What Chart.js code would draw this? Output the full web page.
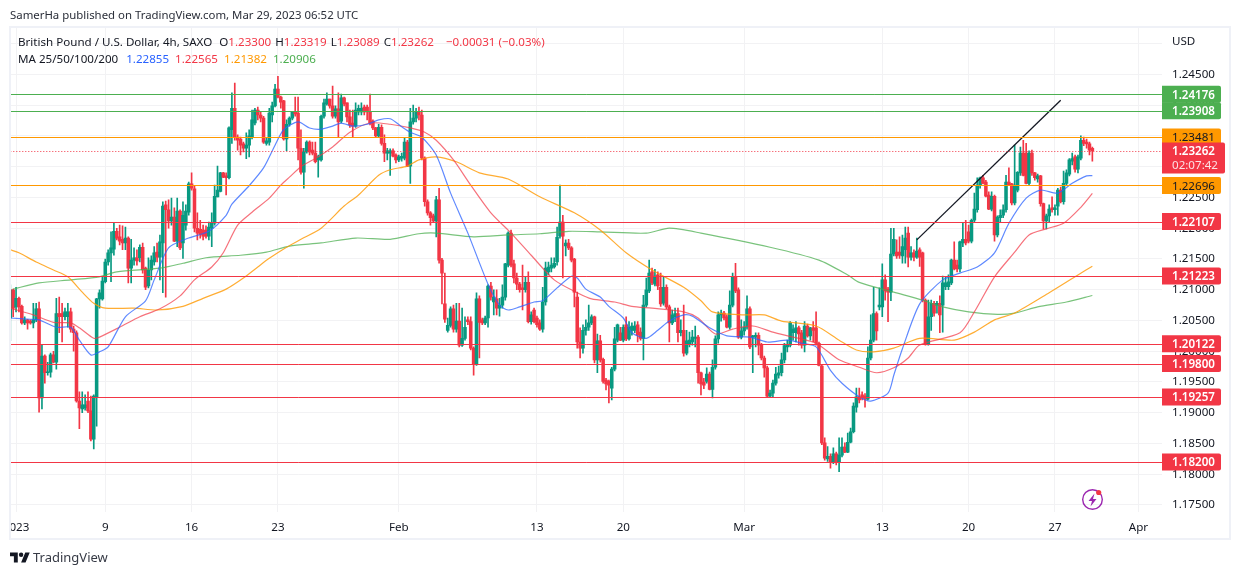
<!DOCTYPE html>
<html>
<head>
<meta charset="utf-8">
<title>GBPUSD 4h</title>
<script src="https://cdn.jsdelivr.net/npm/chart.js@4"></script>
<style>
    html, body { margin: 0; padding: 0; background: #fff; }
    body { width: 1240px; height: 575px; position: relative; overflow: hidden; font-family: "Noto Sans", sans-serif; color: #131722; }
    canvas { position: absolute; left: 0; top: 0; }
    .txt { position: absolute; white-space: pre; font-size: 11.6px; line-height: 16px; }
    .txt b { font-weight: normal; margin-left: 4px; }
    .up { color: #089981; } .down { color: #F23645; }
    svg { position: absolute; }
</style>
</head>
<body>
<canvas id="chart" width="1240" height="575"></canvas>
<div class="txt" style="left:10px;top:7px;color:#2a2e39;font-size:11.4px">SamerHa published on TradingView.com, Mar 29, 2023 06:52 UTC</div>
<div class="txt" style="left:18px;top:34px">British Pound / U.S. Dollar, 4h, SAXO<b style="margin-left:7px">O<span class="down">1.23300</span></b><b>H<span class="down">1.23319</span></b><b>L<span class="down">1.23089</span></b><b>C<span class="down">1.23262</span></b><b class="down" style="margin-left:12px">−0.00031 (−0.03%)</b></div>
<div class="txt" style="left:18px;top:51px">MA 25/50/100/200<b style="margin-left:8px;color:#2962FF">1.22855</b><b style="margin-left:6px;color:#F23645">1.22565</b><b style="margin-left:6px;color:#FF9800">1.21382</b><b style="margin-left:6px;color:#4CAF50">1.20906</b></div>
<div class="txt" style="left:1172px;top:33px">USD</div>
<svg style="left:10px;top:550px" width="20" height="16" viewBox="0 0 36 28"><path fill="#131722" d="M14 22H7V11H0V4h14v18zM28 22h-8l7.5-18h8L28 22z"/><circle fill="#131722" cx="20" cy="8" r="4"/></svg>
<div class="txt" style="left:33px;top:549px;font-size:13px;color:#363a45">TradingView</div>
<svg style="left:1080px;top:487px" width="26" height="26" viewBox="0 0 26 26"><circle cx="12.5" cy="12.5" r="9.8" fill="none" stroke="#9C27B0" stroke-width="1.4"/><path fill="#9C27B0" d="M14.5 6.5 8.5 14h3.5l-1.5 5.5 6-7.500h-3.500z"/><circle cx="18.700" cy="5.500" r="2.600" fill="#F23645"/></svg>
<script>
// ========================
// DATA
// ========================
const xTickIndex = [2, 33, 63, 93, 135, 183, 213, 255, 303, 333, 363, 392];
const xTickLabels = ['2023', '9', '16', '23', 'Feb', '13', '20', 'Mar', '13', '20', '27', 'Apr'];

const opens = [
    1.2054,1.2100,1.2072,1.2086,1.2073,1.2046,1.2051,1.2049,1.2046,1.2051,1.2069,1.1924,1.1992,1.1965,1.1966,1.1994,1.1982,1.2061,1.2061,1.2056,1.2056,1.2064,1.2036,1.2030,1.1919,1.1906,1.1908,1.1919,1.1903,1.1857,1.1925,1.2085,1.2085,
    1.2113,1.2145,1.2160,1.2166,1.2195,1.2186,1.2182,1.2176,1.2184,1.2135,1.2148,1.2152,1.2152,1.2169,1.2135,1.2106,1.2132,1.2145,1.2161,1.2153,1.2176,1.2238,1.2230,1.2212,1.2218,1.2179,1.2228,1.2176,1.2205,1.2226,
    1.2272,1.2264,1.2200,1.2198,1.2197,1.2197,1.2187,1.2200,1.2208,1.2251,1.2260,1.2290,1.2285,1.2282,1.2360,1.2395,1.2348,1.2345,1.2337,1.2330,1.2335,1.2348,1.2371,1.2392,1.2384,1.2379,1.2338,1.2340,1.2384,1.2399,
    1.2426,1.2413,1.2407,1.2345,1.2369,1.2379,1.2389,1.2387,1.2330,1.2291,1.2324,1.2340,1.2327,1.2322,1.2311,1.2311,1.2382,1.2402,1.2410,1.2399,1.2382,1.2394,1.2374,1.2412,1.2404,1.2381,1.2371,1.2366,1.2389,1.2389,
    1.2397,1.2397,1.2389,1.2374,1.2363,1.2350,1.2364,1.2338,1.2322,1.2322,1.2326,1.2319,1.2311,1.2314,1.2314,1.2340,1.2301,1.2373,1.2379,1.2389,1.2384,1.2314,1.2243,1.2225,1.2220,1.2212,1.2246,1.2148,1.2077,1.2034,
    1.2042,1.2069,1.2036,1.2049,1.2010,1.2021,1.2051,1.2048,1.2005,1.1979,1.2085,1.2051,1.2046,1.2054,1.2106,1.2080,1.2085,1.2070,1.2075,1.2088,1.2140,1.2192,1.2142,1.2119,1.2109,1.2103,1.2100,1.2112,1.2048,1.2067,
    1.2054,1.2046,1.2036,1.2080,1.2129,1.2135,1.2137,1.2145,1.2187,1.2210,1.2171,1.2176,1.2168,1.2150,1.2088,1.2015,1.2005,1.2034,1.2039,1.2046,1.2056,1.1986,1.2017,1.1987,1.1953,1.1951,1.1940,1.1971,1.2018,1.2030,
    1.2018,1.2043,1.2020,1.2034,1.2034,1.2043,1.2031,1.2021,1.2075,1.2098,1.2129,1.2109,1.2124,1.2104,1.2078,1.2104,1.2072,1.2046,1.2056,1.2061,1.2030,1.2034,1.1997,1.2012,1.2015,1.2021,1.2023,1.1965,1.1950,1.1951,
    1.1963,1.1938,1.1974,1.2020,1.2059,1.2062,1.2056,1.2039,1.2075,1.2121,1.2100,1.2023,1.2033,1.2039,1.2069,1.2023,1.2023,1.2026,1.2010,1.1989,1.1973,1.1927,1.1932,1.1948,1.1961,1.1965,1.1986,1.2007,1.2010,1.2030,
    1.2030,1.2038,1.2030,1.2010,1.2041,1.2025,1.2038,1.2038,1.2013,1.1976,1.1851,1.1825,1.1829,1.1820,1.1833,1.1820,1.1831,1.1844,1.1836,1.1852,1.1869,1.1909,1.1926,1.1929,1.1927,1.1922,1.1989,1.2018,1.2061,1.2072,
    1.2072,1.2116,1.2101,1.2096,1.2158,1.2161,1.2161,1.2155,1.2165,1.2192,1.2153,1.2160,1.2153,1.2165,1.2160,1.2083,1.2012,1.2056,1.2078,1.2075,1.2078,1.2075,1.2105,1.2105,1.2111,1.2148,1.2140,1.2134,1.2176,1.2182,
    1.2194,1.2179,1.2213,1.2230,1.2269,1.2282,1.2275,1.2254,1.2231,1.2252,1.2189,1.2217,1.2221,1.2230,1.2275,1.2272,1.2241,1.2262,1.2290,1.2322,1.2322,1.2273,1.2322,1.2290,1.2280,1.2285,1.2240,1.2212,1.2220,1.2233,
    1.2230,1.2236,1.2262,1.2243,1.2273,1.2288,1.2309,1.2316,1.2296,1.2314,1.2343,1.2340,1.2337,1.2330
];
const highs = [
    1.2108,1.2101,1.2104,1.2088,1.2075,1.2056,1.2052,1.2051,1.2078,1.2078,1.2080,1.2010,1.1994,1.1982,1.1997,1.2000,1.2086,1.2088,1.2078,1.2070,1.2078,1.2070,1.2041,1.2033,1.1934,1.1934,1.1929,1.1934,1.1927,1.1929,1.2086,1.2100,1.2121,
    1.2150,1.2165,1.2194,1.2208,1.2200,1.2205,1.2204,1.2202,1.2186,1.2182,1.2168,1.2165,1.2173,1.2176,1.2137,1.2152,1.2155,1.2170,1.2176,1.2189,1.2243,1.2244,1.2246,1.2249,1.2233,1.2249,1.2230,1.2243,1.2238,1.2275,
    1.2290,1.2269,1.2225,1.2213,1.2205,1.2204,1.2210,1.2225,1.2270,1.2301,1.2291,1.2291,1.2290,1.2365,1.2420,1.2436,1.2352,1.2348,1.2340,1.2355,1.2360,1.2392,1.2395,1.2397,1.2389,1.2382,1.2347,1.2395,1.2405,1.2434,
    1.2447,1.2415,1.2408,1.2376,1.2381,1.2390,1.2413,1.2413,1.2360,1.2330,1.2342,1.2342,1.2340,1.2340,1.2319,1.2384,1.2410,1.2420,1.2410,1.2431,1.2399,1.2420,1.2418,1.2413,1.2404,1.2392,1.2392,1.2404,1.2400,1.2404,
    1.2400,1.2400,1.2418,1.2376,1.2364,1.2369,1.2368,1.2352,1.2330,1.2329,1.2329,1.2321,1.2319,1.2322,1.2347,1.2343,1.2395,1.2400,1.2395,1.2397,1.2392,1.2316,1.2246,1.2227,1.2223,1.2252,1.2265,1.2151,1.2127,1.2054,
    1.2072,1.2075,1.2078,1.2078,1.2070,1.2056,1.2056,1.2056,1.2007,1.2095,1.2090,1.2054,1.2057,1.2108,1.2112,1.2100,1.2100,1.2086,1.2108,1.2143,1.2194,1.2197,1.2148,1.2127,1.2112,1.2140,1.2121,1.2129,1.2064,1.2070,
    1.2057,1.2051,1.2104,1.2145,1.2145,1.2152,1.2152,1.2202,1.2270,1.2221,1.2181,1.2182,1.2170,1.2151,1.2096,1.2038,1.2043,1.2051,1.2075,1.2059,1.2057,1.2028,1.2026,1.1989,1.1956,1.1953,1.1974,1.2039,1.2044,1.2039,
    1.2043,1.2056,1.2048,1.2046,1.2048,1.2048,1.2038,1.2091,1.2119,1.2148,1.2135,1.2133,1.2129,1.2127,1.2121,1.2108,1.2075,1.2067,1.2070,1.2070,1.2051,1.2075,1.2034,1.2031,1.2034,1.2041,1.2026,1.1966,1.1956,1.1973,
    1.1966,1.1986,1.2025,1.2064,1.2067,1.2065,1.2059,1.2098,1.2127,1.2143,1.2103,1.2051,1.2048,1.2090,1.2072,1.2026,1.2030,1.2030,1.2013,1.1992,1.1976,1.1937,1.1953,1.1974,1.1976,1.1997,1.2013,1.2018,1.2048,1.2043,
    1.2048,1.2041,1.2034,1.2048,1.2044,1.2039,1.2048,1.2064,1.2015,1.1977,1.1859,1.1845,1.1833,1.1843,1.1836,1.1859,1.1859,1.1851,1.1867,1.1875,1.1916,1.1940,1.1940,1.1934,1.1931,1.2007,1.2059,1.2104,1.2064,1.2103,
    1.2142,1.2124,1.2104,1.2200,1.2200,1.2181,1.2186,1.2189,1.2202,1.2202,1.2170,1.2165,1.2184,1.2168,1.2161,1.2085,1.2083,1.2083,1.2081,1.2081,1.2090,1.2122,1.2121,1.2124,1.2150,1.2178,1.2148,1.2179,1.2208,1.2213,
    1.2205,1.2215,1.2257,1.2282,1.2283,1.2286,1.2278,1.2259,1.2259,1.2254,1.2220,1.2230,1.2238,1.2286,1.2298,1.2273,1.2335,1.2292,1.2332,1.2343,1.2338,1.2326,1.2327,1.2291,1.2288,1.2286,1.2241,1.2223,1.2238,1.2251,
    1.2238,1.2265,1.2267,1.2293,1.2295,1.2313,1.2322,1.2319,1.2319,1.2350,1.2348,1.2345,1.2340,1.2332
];
const lows = [
    1.2017,1.2056,1.2064,1.2064,1.2044,1.2043,1.2036,1.2044,1.2038,1.2048,1.1901,1.1906,1.1948,1.1961,1.1958,1.1981,1.1971,1.2030,1.2015,1.2051,1.2039,1.2031,1.2000,1.1917,1.1874,1.1900,1.1904,1.1900,1.1854,1.1841,1.1878,1.2070,1.2083,
    1.2111,1.2140,1.2113,1.2156,1.2181,1.2173,1.2165,1.2165,1.2111,1.2111,1.2140,1.2140,1.2145,1.2127,1.2100,1.2103,1.2116,1.2140,1.2145,1.2116,1.2095,1.2088,1.2200,1.2205,1.2178,1.2170,1.2165,1.2151,1.2197,1.2221,
    1.2262,1.2194,1.2181,1.2184,1.2181,1.2184,1.2181,1.2170,1.2205,1.2251,1.2259,1.2282,1.2254,1.2280,1.2338,1.2343,1.2327,1.2319,1.2324,1.2313,1.2316,1.2345,1.2368,1.2376,1.2373,1.2338,1.2335,1.2335,1.2373,1.2397,
    1.2412,1.2395,1.2343,1.2326,1.2366,1.2376,1.2382,1.2311,1.2288,1.2265,1.2322,1.2319,1.2319,1.2306,1.2283,1.2309,1.2379,1.2400,1.2395,1.2379,1.2379,1.2347,1.2371,1.2399,1.2373,1.2364,1.2347,1.2364,1.2384,1.2384,
    1.2384,1.2376,1.2368,1.2360,1.2348,1.2347,1.2335,1.2308,1.2311,1.2286,1.2316,1.2306,1.2308,1.2309,1.2311,1.2300,1.2273,1.2369,1.2373,1.2376,1.2311,1.2236,1.2221,1.2205,1.2210,1.2186,1.2143,1.2077,1.2047,1.2031,
    1.2039,1.2031,1.2031,1.2007,1.2008,1.2018,1.2043,1.2002,1.1961,1.1977,1.1989,1.2043,1.2043,1.2039,1.2083,1.2059,1.2059,1.2057,1.2070,1.2083,1.2137,1.2137,1.2111,1.2100,1.2096,1.2067,1.2096,1.2046,1.2044,1.2046,
    1.2039,1.2034,1.2031,1.2075,1.2124,1.2129,1.2135,1.2140,1.2184,1.2119,1.2155,1.2165,1.2145,1.2072,1.2005,1.1989,1.1997,1.2026,1.2034,1.2043,1.1981,1.1965,1.1982,1.1948,1.1937,1.1916,1.1921,1.1968,1.2015,1.2017,
    1.2015,1.2017,1.2018,1.2026,1.2030,1.2015,1.2018,1.1986,1.2072,1.2095,1.2108,1.2106,1.2100,1.2073,1.2075,1.2069,1.2015,1.2043,1.2048,1.2015,1.2025,1.1992,1.1994,1.2007,1.2010,1.2007,1.1948,1.1929,1.1939,1.1948,
    1.1937,1.1924,1.1971,1.2013,1.2049,1.2051,1.2038,1.2036,1.2072,1.2095,1.2021,1.2020,1.2026,1.2036,1.2004,1.1965,1.2007,1.1994,1.1986,1.1958,1.1925,1.1925,1.1925,1.1945,1.1956,1.1960,1.1981,1.1999,1.2007,1.2018,
    1.2015,1.2010,1.2005,1.1999,1.2023,1.2018,1.2015,1.2010,1.1976,1.1848,1.1823,1.1821,1.1810,1.1817,1.1815,1.1804,1.1828,1.1835,1.1835,1.1851,1.1867,1.1901,1.1916,1.1921,1.1909,1.1921,1.1986,1.2015,1.2018,1.2067,
    1.2056,1.2083,1.2048,1.2082,1.2155,1.2151,1.2151,1.2143,1.2143,1.2137,1.2148,1.2147,1.2151,1.2138,1.2080,1.2010,1.2010,1.2034,1.2057,1.2062,1.2030,1.2031,1.2100,1.2100,1.2108,1.2132,1.2129,1.2129,1.2170,1.2173,
    1.2176,1.2176,1.2209,1.2226,1.2265,1.2272,1.2251,1.2230,1.2228,1.2179,1.2186,1.2210,1.2217,1.2226,1.2269,1.2238,1.2238,1.2259,1.2286,1.2285,1.2272,1.2270,1.2286,1.2278,1.2275,1.2236,1.2199,1.2199,1.2210,1.2226,
    1.2221,1.2221,1.2241,1.2239,1.2270,1.2285,1.2303,1.2291,1.2290,1.2311,1.2334,1.2330,1.2319,1.2309
];
const closes = [
    1.2100,1.2070,1.2086,1.2072,1.2046,1.2051,1.2046,1.2046,1.2051,1.2069,1.1924,1.1992,1.1965,1.1966,1.1994,1.1982,1.2061,1.2056,1.2056,1.2064,1.2064,1.2036,1.2030,1.1919,1.1908,1.1913,1.1913,1.1903,1.1857,1.1927,1.2085,1.2095,1.2114,
    1.2145,1.2160,1.2168,1.2195,1.2184,1.2179,1.2176,1.2184,1.2135,1.2148,1.2152,1.2147,1.2169,1.2132,1.2104,1.2132,1.2148,1.2160,1.2153,1.2178,1.2236,1.2230,1.2212,1.2218,1.2179,1.2228,1.2168,1.2221,1.2228,1.2272,
    1.2265,1.2200,1.2192,1.2190,1.2187,1.2187,1.2202,1.2208,1.2252,1.2262,1.2290,1.2283,1.2282,1.2363,1.2395,1.2347,1.2343,1.2335,1.2330,1.2335,1.2350,1.2376,1.2392,1.2384,1.2379,1.2340,1.2342,1.2387,1.2399,1.2426,
    1.2413,1.2405,1.2345,1.2369,1.2379,1.2389,1.2386,1.2330,1.2291,1.2324,1.2340,1.2324,1.2322,1.2308,1.2316,1.2382,1.2404,1.2410,1.2399,1.2382,1.2394,1.2373,1.2412,1.2402,1.2381,1.2368,1.2366,1.2392,1.2395,1.2395,
    1.2389,1.2389,1.2371,1.2363,1.2350,1.2364,1.2338,1.2322,1.2326,1.2326,1.2317,1.2311,1.2316,1.2317,1.2340,1.2301,1.2373,1.2379,1.2389,1.2384,1.2314,1.2243,1.2225,1.2217,1.2212,1.2246,1.2148,1.2127,1.2052,1.2042,
    1.2069,1.2036,1.2049,1.2010,1.2021,1.2039,1.2048,1.2005,1.1979,1.2085,1.2047,1.2046,1.2054,1.2106,1.2088,1.2088,1.2070,1.2075,1.2088,1.2142,1.2192,1.2140,1.2119,1.2109,1.2100,1.2100,1.2112,1.2048,1.2059,1.2048,
    1.2043,1.2036,1.2080,1.2135,1.2137,1.2140,1.2143,1.2185,1.2210,1.2187,1.2176,1.2168,1.2148,1.2096,1.2015,1.2005,1.2034,1.2039,1.2046,1.2056,1.1986,1.2017,1.1986,1.1951,1.1947,1.1945,1.1971,1.2020,1.2043,1.2018,
    1.2039,1.2020,1.2039,1.2041,1.2041,1.2026,1.2021,1.2075,1.2100,1.2127,1.2111,1.2122,1.2106,1.2077,1.2104,1.2072,1.2046,1.2059,1.2061,1.2030,1.2034,1.1997,1.2017,1.2018,1.2023,1.2023,1.1965,1.1947,1.1945,1.1963,
    1.1938,1.1974,1.2020,1.2059,1.2062,1.2054,1.2039,1.2075,1.2121,1.2098,1.2023,1.2033,1.2039,1.2069,1.2007,1.2025,1.2026,1.2010,1.1989,1.1973,1.1927,1.1932,1.1948,1.1963,1.1965,1.1986,1.2009,1.2010,1.2046,1.2036,
    1.2038,1.2028,1.2010,1.2041,1.2025,1.2038,1.2034,1.2013,1.1977,1.1851,1.1826,1.1829,1.1820,1.1833,1.1820,1.1831,1.1844,1.1836,1.1852,1.1869,1.1911,1.1926,1.1921,1.1924,1.1922,1.1989,1.2018,1.2061,1.2033,1.2075,
    1.2116,1.2098,1.2096,1.2158,1.2182,1.2155,1.2156,1.2170,1.2184,1.2153,1.2160,1.2153,1.2163,1.2153,1.2083,1.2012,1.2056,1.2078,1.2062,1.2078,1.2059,1.2111,1.2111,1.2113,1.2148,1.2134,1.2134,1.2178,1.2182,1.2176,
    1.2179,1.2213,1.2231,1.2270,1.2282,1.2273,1.2252,1.2231,1.2252,1.2189,1.2218,1.2221,1.2230,1.2275,1.2270,1.2241,1.2270,1.2291,1.2322,1.2286,1.2273,1.2322,1.2290,1.2282,1.2285,1.2240,1.2212,1.2220,1.2231,1.2230,
    1.2233,1.2262,1.2243,1.2273,1.2290,1.2311,1.2313,1.2296,1.2316,1.2343,1.2338,1.2337,1.2327,1.2326
];

// moving averages at the bends of each line
const ma25Index = [0,7,10,16,21,24,28,31,34,40,47,50,55,62,69,75,77,83,88,92,95,100,104,108,112,115,119,124,128,132,136,139,143,148,153,159,166,170,173,177,182,185,190,195,197,200,205,208,213,216,221,225,229,234,237,243,249,257,263,270,275,280,285,289,295,299,305,307,310,316,324,330,336,342,347,353,358,364,369,374,376];
const ma25Values = [1.2054,1.2052,1.2051,1.2039,1.2039,1.2018,1.1994,1.1999,1.2007,1.2056,1.2082,1.2116,1.2168,1.2184,1.2195,1.2221,1.2239,1.2269,1.2298,1.2335,1.2360,1.2373,1.2363,1.2361,1.2366,1.2371,1.2366,1.2369,1.2376,1.2378,1.2365,1.2356,1.2348,1.2319,1.2257,1.2192,1.2109,1.2075,1.2067,1.2072,1.2080,1.2082,1.2103,1.2122,1.2119,1.2101,1.2088,1.2073,1.2054,1.2030,1.2021,1.2034,1.2049,1.2059,1.2057,1.2038,1.2025,1.2023,1.2015,1.2018,1.2013,1.2007,1.1969,1.1948,1.1926,1.1919,1.1932,1.1961,1.2004,1.2077,1.2116,1.2127,1.2137,1.2160,1.2208,1.2249,1.2262,1.2257,1.2273,1.2285,1.22855];
const ma50Index = [0,8,15,21,24,29,31,38,45,52,59,64,70,74,79,84,90,94,97,101,107,112,118,125,132,139,144,148,154,160,167,174,181,189,197,202,210,216,223,234,239,245,251,258,265,272,280,288,295,301,307,312,316,330,335,342,349,354,360,366,372,376];
const ma50Values = [1.2070,1.2059,1.2047,1.2046,1.2038,1.2021,1.2023,1.2039,1.2056,1.2069,1.2090,1.2116,1.2137,1.2160,1.2205,1.2226,1.2249,1.2270,1.2283,1.2300,1.2316,1.2332,1.2356,1.2371,1.2369,1.2363,1.2356,1.2343,1.2311,1.2270,1.2225,1.2192,1.2156,1.2116,1.2095,1.2085,1.2080,1.2073,1.2070,1.2064,1.2054,1.2028,1.2036,1.2041,1.2031,1.2023,1.2013,1.1986,1.1974,1.1965,1.1973,1.1989,1.2010,1.2030,1.2064,1.2121,1.2161,1.2189,1.2199,1.2208,1.2234,1.22565];
const ma100Index = [0,3,9,15,20,25,29,33,43,51,60,67,75,81,86,90,96,101,108,116,121,128,132,138,142,148,155,163,173,184,196,205,214,223,234,240,244,255,262,268,280,288,294,300,307,316,328,335,342,349,361,371,376];
const ma100Values = [1.2165,1.2160,1.2145,1.2132,1.2121,1.2096,1.2078,1.2070,1.2070,1.2067,1.2073,1.2086,1.2101,1.2119,1.2137,1.2151,1.2169,1.2182,1.2200,1.2236,1.2254,1.2286,1.2295,1.2301,1.2311,1.2316,1.2308,1.2290,1.2280,1.2251,1.2225,1.2197,1.2160,1.2132,1.2104,1.2082,1.2064,1.2059,1.2059,1.2049,1.2041,1.2018,1.2002,1.1999,1.2005,1.2021,1.2018,1.2031,1.2051,1.2062,1.2095,1.2124,1.21382];
const ma200Index = [1,10,21,31,37,52,60,68,80,89,97,108,120,132,142,148,161,173,184,194,205,221,229,240,264,281,291,295,307,317,324,333,343,349,357,367,376];
const ma200Values = [1.2101,1.2111,1.2116,1.2121,1.2129,1.2135,1.2143,1.2152,1.2156,1.2161,1.2171,1.2176,1.2184,1.2182,1.2191,1.2192,1.2186,1.2189,1.2191,1.2195,1.2194,1.2192,1.2200,1.2192,1.2169,1.2148,1.2124,1.2112,1.2096,1.2083,1.2072,1.2064,1.2060,1.2062,1.2072,1.2080,1.20906];

// horizontal levels drawn by the author
const levelPrices = [1.24176, 1.23908, 1.23481, 1.22696, 1.22107, 1.21223, 1.20122, 1.19800, 1.19257, 1.18200];
const levelColors = ['#4CAF50', '#4CAF50', '#FF9800', '#FF9800', '#F23645', '#F23645', '#F23645', '#F23645', '#F23645', '#F23645'];

const lastPrice = 1.23262;
const countdown = '02:07:42';

const trendIndex = [315, 365];
const trendPrices = [1.2181, 1.2408];

const UP = '#089981';
const DOWN = '#F23645';
const GRID = '#f2f2f4';
const X_MAX = 400.2;
const TICK_FONT = '11.6px "Noto Sans", sans-serif';

// ========================
// DATASETS
// ========================
const candleColors = closes.map((c, i) => c >= opens[i] ? UP : DOWN);

const wickData = highs.map((h, i) => ({ x: i, y: [lows[i], h] }));
const bodyData = opens.map((o, i) => ({ x: i, y: [o, closes[i]] }));

function maLine(index, values, color) {
    return {
        type: 'line',
        data: index.map((x, i) => ({ x: x, y: values[i] })),
        borderColor: color,
        borderWidth: 1.2,
        pointRadius: 0,
        tension: 0.25,
        order: 2
    };
}

const datasets = [
    { type: 'bar', data: wickData, backgroundColor: candleColors, barThickness: 1, grouped: false, order: 4 },
    { type: 'bar', data: bodyData, backgroundColor: candleColors, barThickness: 2.9, grouped: false, minBarLength: 1, order: 3 },
    maLine(ma25Index, ma25Values, 'rgba(41,98,255,0.75)'),
    maLine(ma50Index, ma50Values, 'rgba(242,54,69,0.7)'),
    maLine(ma100Index, ma100Values, 'rgba(255,152,0,0.8)'),
    maLine(ma200Index, ma200Values, 'rgba(76,175,80,0.75)'),
    {
        type: 'line',
        data: trendIndex.map((x, i) => ({ x: x, y: trendPrices[i] })),
        borderColor: '#131722',
        borderWidth: 1.3,
        pointRadius: 0,
        order: 0
    }
];

// ========================
// LEVELS, FRAME, PRICE LABELS
// ========================
// levels go on whole pixels so they stay sharp, like the original
function levelY(scale, price) {
    return Math.round(scale.getPixelForValue(price)) + 0.5;
}

const levelLines = {
    id: 'levelLines',
    afterDatasetsDraw(chart) {
        const ctx = chart.ctx;
        const area = chart.chartArea;
        const yScale = chart.scales.y;
        ctx.save();
        ctx.lineWidth = 1;

        ctx.strokeStyle = DOWN;
        ctx.setLineDash([1, 2]);
        ctx.beginPath();
        ctx.moveTo(area.left, levelY(yScale, lastPrice));
        ctx.lineTo(area.right, levelY(yScale, lastPrice));
        ctx.stroke();
        ctx.setLineDash([]);

        levelPrices.forEach((p, i) => {
            ctx.strokeStyle = levelColors[i];
            ctx.beginPath();
            ctx.moveTo(area.left, levelY(yScale, p));
            ctx.lineTo(area.right, levelY(yScale, p));
            ctx.stroke();
        });
        ctx.restore();
    }
};

const priceLabels = {
    id: 'priceLabels',
    afterDraw(chart) {
        const ctx = chart.ctx;
        const yScale = chart.scales.y;
        const left = chart.chartArea.right;

        ctx.save();
        // cut the first date label at the frame, as in the original
        ctx.fillStyle = '#fff';
        ctx.fillRect(0, 513, 9, 26);
        ctx.strokeStyle = '#eff1f7';
        ctx.lineWidth = 2;
        ctx.strokeRect(10, 27, 1220, 512);

        ctx.textBaseline = 'middle';
        ctx.textAlign = 'left';
        ctx.font = '600 ' + TICK_FONT;
        levelPrices.forEach((p, i) => {
            const y = yScale.getPixelForValue(p);
            ctx.fillStyle = levelColors[i];
            ctx.beginPath();
            ctx.roundRect(left, y - 8.5, 59, 17, [0, 2, 2, 0]);
            ctx.fill();
            if (levelColors[i] === '#FF9800') return;
            ctx.fillStyle = '#fff';
            ctx.fillText(p.toFixed(5), left + 10, y + 1);
        });

        // last price box sits over the levels
        const lastY = yScale.getPixelForValue(lastPrice);
        ctx.fillStyle = DOWN;
        ctx.beginPath();
        ctx.roundRect(left, lastY - 8, 63, 31, [0, 2, 2, 0]);
        ctx.fill();
        ctx.fillStyle = '#fff';
        ctx.fillText(lastPrice.toFixed(5), left + 10, lastY + 1);
        ctx.font = TICK_FONT;
        ctx.fillStyle = 'rgba(255,255,255,0.85)';
        ctx.fillText(countdown, left + 10, lastY + 15);

        ctx.fillStyle = '#131722';
        levelPrices.forEach((p, i) => {
            if (levelColors[i] !== '#FF9800') return;
            ctx.fillText(p.toFixed(5), left + 10, yScale.getPixelForValue(p) + 1);
        });
        ctx.restore();
    }
};

// ========================
// CHART
// ========================
new Chart(document.getElementById('chart'), {
    data: { datasets: datasets },
    options: {
        responsive: false,
        animation: false,
        layout: { autoPadding: false, padding: { left: 10.3, right: 10, top: 28, bottom: 35 } },
        plugins: { legend: { display: false }, tooltip: { enabled: false } },
        scales: {
            x: {
                type: 'linear',
                offset: false,
                min: 0,
                max: X_MAX,
                grid: { color: GRID, drawTicks: false, offset: false },
                border: { display: false },
                afterBuildTicks(scale) {
                    scale.ticks = xTickIndex.map(v => ({ value: v }));
                },
                afterFit(scale) {
                    scale.height = 28;
                    // the first label must not push the plot to the right
                    scale.paddingLeft = 0;
                    scale.paddingRight = 0;
                },
                ticks: {
                    autoSkip: false,
                    maxRotation: 0,
                    padding: 9,
                    color: '#131722',
                    font: { family: '"Noto Sans", sans-serif', size: 11.6 },
                    callback(value) {
                        return xTickLabels[xTickIndex.indexOf(value)];
                    }
                }
            },
            y: {
                type: 'linear',
                position: 'right',
                min: 1.17386,
                max: 1.25255,
                grid: { color: GRID, drawTicks: false },
                border: { display: false },
                afterFit(scale) { scale.width = 68; },
                ticks: {
                    stepSize: 0.005,
                    includeBounds: false,
                    padding: 10,
                    color: '#131722',
                    font: { family: '"Noto Sans", sans-serif', size: 11.6 },
                    callback(value) {
                        return value > 1.2475 ? '' : value.toFixed(5);
                    }
                }
            }
        }
    },
    plugins: [levelLines, priceLabels]
});
</script>
</body>
</html>
